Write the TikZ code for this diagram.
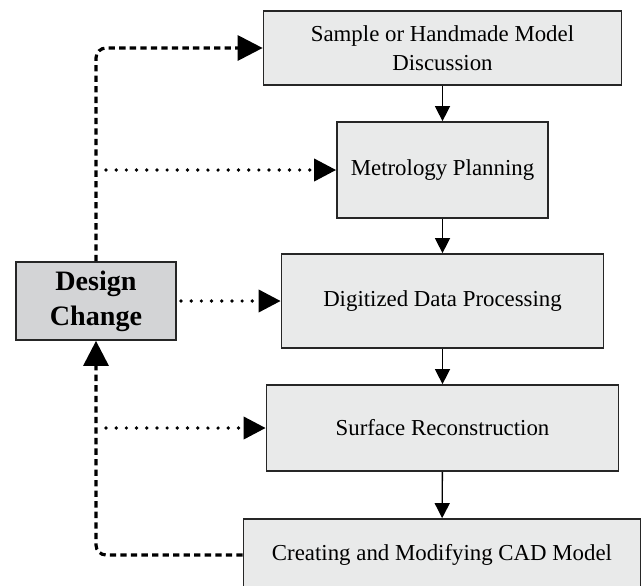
\documentclass[tikz,border=0pt]{standalone}
\usepackage{fontspec}
\setmainfont{Liberation Serif}
\usetikzlibrary{arrows.meta}

\definecolor{boxgray}{HTML}{E9EAEA}
\definecolor{changegray}{HTML}{D3D4D6}

\begin{document}
\begin{tikzpicture}[x=0.02cm, y=-0.02cm,
    stage/.style={draw=black!85, line width=1pt, fill=boxgray, align=center,
        inner sep=0pt, font=\fontsize{13}{16.4}\selectfont},
    change/.style={draw=black!85, line width=1pt, fill=changegray, align=center,
        inner sep=0pt, font=\fontsize{16}{19.8}\selectfont\bfseries},
    flow/.style={-{Triangle[length=0.3cm, width=0.3cm]}, line width=0.8pt},
    feedback/.style={-{Triangle[length=0.5cm, width=0.5cm]}, line width=1.8pt,
        dash pattern=on 3.6pt off 2.4pt, rounded corners=0.2cm},
    hint/.style={-{Triangle[length=0.44cm, width=0.44cm]}, line width=2.1pt,
        line cap=round, dash pattern=on 0pt off 5.8pt}]
            \clip (0,0) rectangle (642,585);

            \node[stage, minimum width=7.16cm, minimum height=1.48cm] (S) at (442.5,48) {Sample or Handmade Model\\Discussion};
            \node[stage, minimum width=4.22cm, minimum height=1.92cm] (M) at (442.5,170) {Metrology Planning};
            \node[stage, minimum width=6.44cm, minimum height=1.88cm] (P) at (442.5,301) {Digitized Data Processing};
            \node[stage, minimum width=7.04cm, minimum height=1.72cm] (R) at (442.5,428) {Surface Reconstruction};
            \node[stage, minimum width=7.94cm, minimum height=1.44cm] (C) at (442,555) {Creating and Modifying CAD Model};
            \node[change, minimum width=3.2cm, minimum height=1.56cm] (D) at (96,301) {Design\\Change};

            \coordinate (m0) at (106,170);
            \coordinate (r0) at (106,428);
            \coordinate (p0) at (181,301);

            \draw[flow] (S) -- (M);
            \draw[flow] (M) -- (P);
            \draw[flow] (P) -- (R);
            \draw[flow] (R) -- (C);

            \draw[feedback] (C.west) -| (D.south);
            \draw[feedback] (D.north) |- (S.west);

            \draw[hint] (m0) -- (M.west);
            \draw[hint] (p0) -- (P.west);
            \draw[hint] (r0) -- (R.west);
        \end{tikzpicture}
\end{document}
